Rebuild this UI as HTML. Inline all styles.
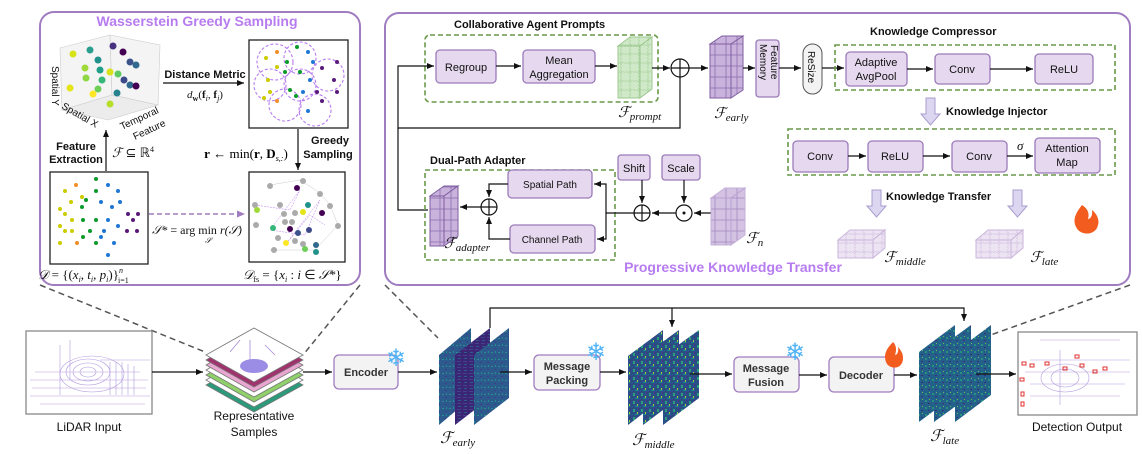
<!DOCTYPE html>
<html><head><meta charset="utf-8"><style>
html,body{margin:0;padding:0;background:#fff;}
svg{display:block;font-family:"Liberation Sans",sans-serif;}
.t{font-size:11px;fill:#111;}
.b{font-size:11px;font-weight:bold;fill:#111;}
.m{font-family:"Liberation Serif",serif;font-style:italic;fill:#111;}
.box{fill:#e6d9ef;stroke:#9b7bb8;stroke-width:1.3;}
.gbox{fill:#f3f3f3;stroke:#a07cc0;stroke-width:1.3;}
.gd{fill:none;stroke:#6a9a4a;stroke-width:1.6;stroke-dasharray:5 3;}
.ln{fill:none;stroke:#111;stroke-width:1.2;}
.dg{fill:none;stroke:#555;stroke-width:1.5;stroke-dasharray:6 4;}
.sf{font-size:24px;fill:#4fb3f5;}
</style></head><body>
<svg width="1142" height="454" viewBox="0 0 1142 454" xmlns="http://www.w3.org/2000/svg">
<defs>
<marker id="a" markerWidth="8" markerHeight="8" refX="7" refY="4" orient="auto" markerUnits="userSpaceOnUse"><path d="M0,1 L7,4 L0,7 z" fill="#111"/></marker>
<marker id="ap" markerWidth="9" markerHeight="9" refX="8" refY="4.5" orient="auto" markerUnits="userSpaceOnUse"><path d="M0,1 L8,4.5 L0,8 z" fill="#a07cc0"/></marker>
<pattern id="grid" width="11" height="11" patternUnits="userSpaceOnUse"><rect width="11" height="11" fill="#c9b3dc" stroke="#8e6fae" stroke-width="0.8"/></pattern>
<pattern id="gridg" width="9" height="9" patternUnits="userSpaceOnUse"><rect width="9" height="9" fill="#cfe8c8" stroke="#9cc98f" stroke-width="0.8" stroke-dasharray="2 1"/></pattern>
<pattern id="gridl" width="9" height="9" patternUnits="userSpaceOnUse"><rect width="9" height="9" fill="#ece3f3" stroke="#c9b6da" stroke-width="0.7" stroke-dasharray="2 1"/></pattern>
<pattern id="nz" width="7" height="7" patternUnits="userSpaceOnUse"><rect width="7" height="7" fill="#2c5a8c"/><rect x="1" y="2" width="2" height="1" fill="#2b8e8a"/><rect x="4" y="5" width="2" height="1" fill="#3a3f86"/><rect x="5" y="1" width="1" height="2" fill="#238a8d"/></pattern>
<pattern id="nz2" width="6" height="6" patternUnits="userSpaceOnUse"><rect width="6" height="6" fill="#3b2575"/><rect x="1" y="1" width="4" height="1" fill="#4a3f8a"/><rect x="2" y="4" width="3" height="1" fill="#2e5c8a"/></pattern>
<pattern id="nz3" width="8" height="8" patternUnits="userSpaceOnUse"><rect width="8" height="8" fill="#2a4f86"/><rect x="1" y="1" width="2" height="3" fill="#2aa07a"/><rect x="5" y="4" width="1" height="3" fill="#9ad840"/><rect x="3" y="6" width="3" height="1" fill="#1f8a8a"/><rect x="6" y="0" width="1" height="2" fill="#46337e"/></pattern>
<pattern id="nz4" width="7" height="7" patternUnits="userSpaceOnUse"><rect width="7" height="7" fill="#23608a"/><rect x="1" y="1" width="2" height="2" fill="#27917e"/><rect x="4" y="4" width="2" height="1" fill="#3a2f7a"/><rect x="5" y="0" width="1" height="1" fill="#6cc05a"/></pattern>
</defs>

<!-- LEFT PANEL -->
<rect x="40" y="12" width="320" height="273" rx="14" fill="none" stroke="#a07cc0" stroke-width="2"/>
<text x="197" y="26" text-anchor="middle" style="font-size:14px;font-weight:bold;fill:#b77cf0">Wasserstein Greedy Sampling</text>
<g stroke="#ccc" stroke-width="0.6" fill="#f4f4f4">
<polygon points="60,48 110,35 112,95 62,110"/>
<polygon points="110,35 160,45 158,105 112,95"/>
<polygon points="62,110 112,95 158,105 108,120" fill="#ececec"/>
</g>
<g>
<circle cx="73" cy="54" r="3.5" fill="#d8e219"/><circle cx="90" cy="50" r="3.5" fill="#2a9d8f"/><circle cx="113" cy="46" r="3.5" fill="#46327e"/><circle cx="123" cy="52" r="3.5" fill="#440154"/>
<circle cx="98" cy="60" r="3.5" fill="#21918c"/><circle cx="130" cy="62" r="3.5" fill="#3b528b"/><circle cx="136" cy="65" r="3.5" fill="#31688e"/>
<circle cx="85" cy="68" r="3.5" fill="#a0da39"/><circle cx="100" cy="70" r="3.5" fill="#1f9e89"/><circle cx="110" cy="72" r="3.5" fill="#d8e219"/><circle cx="118" cy="74" r="3.5" fill="#5ec962"/>
<circle cx="86" cy="78" r="3.5" fill="#8fd744"/><circle cx="102" cy="80" r="3.5" fill="#35b779"/><circle cx="124" cy="80" r="3.5" fill="#3e4989"/><circle cx="130" cy="85" r="3.5" fill="#31688e"/>
<circle cx="70" cy="88" r="3.5" fill="#e5e419"/><circle cx="98" cy="89" r="3.5" fill="#6ece58"/><circle cx="117" cy="93" r="3.5" fill="#26828e"/><circle cx="136" cy="86" r="3.5" fill="#440154"/>
<circle cx="93" cy="94" r="3.5" fill="#fde725"/><circle cx="110" cy="104" r="3.5" fill="#b5de2b"/>
</g>
<text transform="translate(52,66) rotate(90)" class="t" style="font-size:10px">Spatial Y</text>
<text transform="translate(61,108) rotate(30)" class="t" style="font-size:10px">Spatial X</text>
<text transform="translate(122,130) rotate(-25)" class="t" style="font-size:10px">Temporal</text>
<text transform="translate(135,140) rotate(-25)" class="t" style="font-size:10px">Feature</text>
<text x="205" y="78" text-anchor="middle" class="b">Distance Metric</text>
<line x1="163" y1="83" x2="244" y2="83" class="ln" marker-end="url(#a)"/>
<text x="205" y="98" text-anchor="middle" class="m" style="font-size:11px">d<tspan style="font-size:8px;font-weight:bold;font-style:normal" dy="3">w</tspan><tspan dy="-3" style="font-style:normal">(</tspan><tspan font-weight="bold" font-style="normal">f</tspan><tspan font-size="8" dy="3">i</tspan><tspan dy="-3" font-style="normal">, </tspan><tspan font-weight="bold" font-style="normal">f</tspan><tspan font-size="8" dy="3">j</tspan><tspan dy="-3" font-style="normal">)</tspan></text>
<rect x="249" y="40" width="99" height="88" fill="#fff" stroke="#222" stroke-width="1.3"/>
<g fill="none" stroke="#b77cf0" stroke-width="1.1" stroke-dasharray="3 2">
<circle cx="275" cy="62" r="18"/><circle cx="300" cy="58" r="16"/><circle cx="328" cy="75" r="16"/><circle cx="270" cy="85" r="16"/><circle cx="300" cy="85" r="16"/><circle cx="285" cy="105" r="16"/><circle cx="315" cy="110" r="16"/>
</g>
<g><circle cx="277" cy="52" r="2" fill="#f28e2b"/><circle cx="297" cy="47" r="2" fill="#0a9a2a"/><circle cx="308" cy="52" r="2" fill="#1f77d4"/><circle cx="287" cy="62" r="2" fill="#0a9a2a"/><circle cx="266" cy="58" r="2" fill="#cccc00"/><circle cx="277" cy="67" r="2" fill="#cccc00"/><circle cx="313" cy="62" r="2" fill="#1f77d4"/><circle cx="337" cy="62" r="2" fill="#5a1a7a"/><circle cx="322" cy="68" r="2" fill="#5a1a7a"/><circle cx="285" cy="72" r="2" fill="#0a9a2a"/><circle cx="300" cy="72" r="2" fill="#0a9a2a"/><circle cx="334" cy="80" r="2" fill="#5a1a7a"/><circle cx="268" cy="80" r="2" fill="#cccc00"/><circle cx="310" cy="80" r="2" fill="#1f77d4"/><circle cx="290" cy="90" r="2" fill="#0a9a2a"/><circle cx="303" cy="92" r="2" fill="#1f77d4"/><circle cx="270" cy="92" r="2" fill="#cccc00"/><circle cx="277" cy="101" r="2" fill="#f28e2b"/><circle cx="296" cy="96" r="2" fill="#0a9a2a"/><circle cx="317" cy="92" r="2" fill="#5a1a7a"/><circle cx="337" cy="92" r="2" fill="#5a1a7a"/><circle cx="308" cy="111" r="2" fill="#1f77d4"/><circle cx="322" cy="101" r="2" fill="#5a1a7a"/><circle cx="264" cy="98" r="2" fill="#cccc00"/></g>
<line x1="298" y1="129" x2="298" y2="170" class="ln" marker-end="url(#a)"/>
<text x="330" y="144" text-anchor="middle" class="b">Greedy</text>
<text x="328" y="158" text-anchor="middle" class="b">Sampling</text>
<text x="246" y="158" text-anchor="middle" style="font-size:13px;font-family:'Liberation Serif',serif"><tspan font-weight="bold">r</tspan> ← min(<tspan font-weight="bold">r</tspan>, <tspan font-weight="bold">D</tspan><tspan font-size="8" font-style="italic" dy="3">s,:</tspan><tspan dy="-3">)</tspan></text>
<line x1="106" y1="171" x2="106" y2="130" class="ln" marker-end="url(#a)"/>
<text x="76" y="150" text-anchor="middle" class="b">Feature</text>
<text x="76" y="163" text-anchor="middle" class="b">Extraction</text>
<text x="112" y="157" class="m" style="font-size:13px">ℱ <tspan font-style="normal">⊆ ℝ</tspan><tspan font-size="8" dy="-5" font-style="normal">4</tspan></text>
<rect x="50" y="172" width="98" height="92" fill="#fff" stroke="#222" stroke-width="1.3"/>
<g><circle cx="96" cy="179" r="2" fill="#0a9a2a"/><circle cx="76" cy="185" r="2" fill="#f28e2b"/><circle cx="108" cy="185" r="2" fill="#1f77d4"/><circle cx="65" cy="191" r="2" fill="#cccc00"/><circle cx="96" cy="191" r="2" fill="#0a9a2a"/><circle cx="118" cy="191" r="2" fill="#1f77d4"/><circle cx="82" cy="197" r="2" fill="#cccc00"/><circle cx="71" cy="202" r="2" fill="#cccc00"/><circle cx="86" cy="200" r="2" fill="#0a9a2a"/><circle cx="101" cy="202" r="2" fill="#1f77d4"/><circle cx="120" cy="202" r="2" fill="#1f77d4"/><circle cx="60" cy="209" r="2" fill="#cccc00"/><circle cx="82" cy="207" r="2" fill="#0a9a2a"/><circle cx="112" cy="207" r="2" fill="#1f77d4"/><circle cx="128" cy="214" r="2" fill="#5a1a7a"/><circle cx="138" cy="214" r="2" fill="#5a1a7a"/><circle cx="65" cy="214" r="2" fill="#cccc00"/><circle cx="72" cy="220" r="2" fill="#cccc00"/><circle cx="83" cy="220" r="2" fill="#0a9a2a"/><circle cx="96" cy="220" r="2" fill="#0a9a2a"/><circle cx="108" cy="220" r="2" fill="#1f77d4"/><circle cx="133" cy="220" r="2" fill="#5a1a7a"/><circle cx="60" cy="226" r="2" fill="#cccc00"/><circle cx="118" cy="226" r="2" fill="#1f77d4"/><circle cx="65" cy="231" r="2" fill="#cccc00"/><circle cx="72" cy="231" r="2" fill="#cccc00"/><circle cx="90" cy="231" r="2" fill="#0a9a2a"/><circle cx="104" cy="231" r="2" fill="#1f77d4"/><circle cx="127" cy="231" r="2" fill="#5a1a7a"/><circle cx="137" cy="231" r="2" fill="#5a1a7a"/><circle cx="83" cy="237" r="2" fill="#0a9a2a"/><circle cx="101" cy="237" r="2" fill="#1f77d4"/><circle cx="60" cy="243" r="2" fill="#cccc00"/><circle cx="77" cy="243" r="2" fill="#f28e2b"/><circle cx="96" cy="243" r="2" fill="#0a9a2a"/><circle cx="114" cy="243" r="2" fill="#1f77d4"/><circle cx="108" cy="255" r="2" fill="#1f77d4"/></g>
<text x="38" y="279" class="m" style="font-size:13px">𝒟 <tspan font-style="normal">= {(</tspan>x<tspan font-size="8" dy="3">i</tspan><tspan dy="-3">, t</tspan><tspan font-size="8" dy="3">i</tspan><tspan dy="-3">, p</tspan><tspan font-size="8" dy="3">i</tspan><tspan dy="-3" font-style="normal">)}</tspan><tspan font-size="8" dy="-6">n</tspan><tspan font-size="8" dx="-5" dy="10" font-style="normal">i=1</tspan></text>
<line x1="149" y1="214" x2="245" y2="214" stroke="#a07cc0" stroke-width="1.5" stroke-dasharray="5 3" marker-end="url(#ap)"/>
<text x="197" y="234" text-anchor="middle" class="m" style="font-size:12px">𝒮* <tspan font-style="normal">= arg min</tspan> r(𝒮)</text>
<text x="205" y="243" class="m" style="font-size:8px">𝒮</text>
<rect x="249" y="172" width="96" height="90" fill="#fff" stroke="#222" stroke-width="1.3"/>
<g stroke="#b77cf0" stroke-width="0.5" stroke-dasharray="2 1" fill="none"><path d="M255,205 L290,210 L300,190 L270,230 L305,235 L320,200 L285,245 L310,215 L325,225"/></g>
<g stroke="#bbb" stroke-width="0.4" fill="none"><path d="M270,185 L300,180 L320,193 L330,205 L338,225 L315,250 L270,250"/></g>
<g><circle cx="270" cy="186" r="3" fill="#aaa"/><circle cx="303" cy="181" r="3" fill="#aaa"/><circle cx="297" cy="188" r="3" fill="#440154"/><circle cx="320" cy="194" r="3" fill="#aaa"/><circle cx="255" cy="205" r="3" fill="#aaa"/><circle cx="257" cy="210" r="3" fill="#a0da39"/><circle cx="280" cy="205" r="3" fill="#aaa"/><circle cx="308" cy="205" r="3" fill="#21918c"/><circle cx="303" cy="212" r="3" fill="#e5e419"/><circle cx="322" cy="213" r="3" fill="#440154"/><circle cx="330" cy="206" r="3" fill="#aaa"/><circle cx="284" cy="214" r="3" fill="#aaa"/><circle cx="295" cy="213" r="3" fill="#aaa"/><circle cx="285" cy="222" r="3" fill="#aaa"/><circle cx="292" cy="222" r="3" fill="#aaa"/><circle cx="256" cy="225" r="3" fill="#aaa"/><circle cx="273" cy="228" r="3" fill="#35b779"/><circle cx="290" cy="229" r="3" fill="#440154"/><circle cx="298" cy="233" r="3" fill="#3b528b"/><circle cx="309" cy="230" r="3" fill="#3e4989"/><circle cx="338" cy="226" r="3" fill="#aaa"/><circle cx="278" cy="238" r="3" fill="#aaa"/><circle cx="295" cy="241" r="3" fill="#aaa"/><circle cx="286" cy="243" r="3" fill="#fde725"/><circle cx="303" cy="244" r="3" fill="#aaa"/><circle cx="316" cy="245" r="3" fill="#31688e"/><circle cx="305" cy="249" r="3" fill="#6ece58"/><circle cx="274" cy="250" r="3" fill="#aaa"/><circle cx="316" cy="252" r="3" fill="#21918c"/></g>
<text x="243" y="279" class="m" style="font-size:13px">𝒟<tspan font-size="8" dy="3" font-style="normal">fs</tspan><tspan dy="-3" font-style="normal"> = {</tspan>x<tspan font-size="8" dy="3">i</tspan><tspan dy="-3" font-style="normal"> : </tspan>i <tspan font-style="normal">∈</tspan> 𝒮*<tspan font-style="normal">}</tspan></text>

<!-- RIGHT PANEL -->
<rect x="385" y="13" width="745" height="272" rx="14" fill="none" stroke="#a07cc0" stroke-width="2"/>
<text x="454" y="28" class="b">Collaborative Agent Prompts</text>
<rect x="425" y="35" width="233" height="67" rx="5" class="gd"/>
<rect x="436" y="50" width="60" height="33" rx="4" class="box"/><text x="466" y="71" text-anchor="middle" class="t">Regroup</text>
<rect x="523" y="50" width="72" height="33" rx="4" class="box"/><text x="559" y="64" text-anchor="middle" class="t">Mean</text><text x="559" y="78" text-anchor="middle" class="t">Aggregation</text>
<line x1="496" y1="66" x2="521" y2="66" class="ln" marker-end="url(#a)"/>
<line x1="595" y1="66" x2="617" y2="66" class="ln" marker-end="url(#a)"/>
<polygon points="618,46 630,37 652,37 640,46" fill="url(#gridg)" stroke="#9cc98f"/>
<polygon points="640,46 652,37 652,89 640,98" fill="url(#gridg)" stroke="#9cc98f"/>
<rect x="618" y="46" width="22" height="52" fill="url(#gridg)" stroke="#9cc98f"/>
<text x="618" y="117" class="m" style="font-size:15px">ℱ<tspan font-size="11" dy="3">prompt</tspan></text>
<line x1="652" y1="68" x2="670" y2="68" class="ln" marker-end="url(#a)"/>
<circle cx="680" cy="68" r="9" fill="#fff" stroke="#111" stroke-width="1.2"/><path d="M671,68 H689 M680,59 V77" stroke="#111" stroke-width="1.2"/>
<line x1="689" y1="68" x2="708" y2="68" class="ln" marker-end="url(#a)"/>
<polygon points="710,44 722,36 743,36 731,44" fill="url(#grid)" stroke="#7e5ea0"/>
<polygon points="731,44 743,36 743,90 731,98" fill="url(#grid)" stroke="#7e5ea0"/>
<rect x="710" y="44" width="21" height="54" fill="url(#grid)" stroke="#7e5ea0"/>
<text x="714" y="118" class="m" style="font-size:15px">ℱ<tspan font-size="11" dy="3">early</tspan></text>
<line x1="743" y1="68" x2="755" y2="68" class="ln" marker-end="url(#a)"/>
<rect x="756" y="40" width="23" height="57" rx="3" class="box"/>
<text transform="translate(771,45) rotate(90)" class="t" style="font-size:10px">Feature</text>
<text transform="translate(760,44) rotate(90)" class="t" style="font-size:10px">Memory</text>
<line x1="779" y1="68" x2="801" y2="68" class="ln" marker-end="url(#a)"/>
<rect x="803" y="44" width="19" height="50" rx="9.5" fill="#f3f3f3" stroke="#555" stroke-width="1"/>
<text transform="translate(808,51) rotate(90)" class="t" style="font-size:10px">ReSize</text>
<line x1="822" y1="68" x2="844" y2="68" class="ln" marker-end="url(#a)"/>
<text x="870" y="35" class="b">Knowledge Compressor</text>
<rect x="835" y="45" width="280" height="45" class="gd"/>
<rect x="846" y="52" width="61" height="34" rx="4" class="box"/><text x="876" y="66" text-anchor="middle" class="t">Adaptive</text><text x="876" y="80" text-anchor="middle" class="t">AvgPool</text>
<rect x="935" y="54" width="55" height="30" rx="4" class="box"/><text x="962" y="73" text-anchor="middle" class="t">Conv</text>
<rect x="1035" y="54" width="58" height="30" rx="4" class="box"/><text x="1064" y="73" text-anchor="middle" class="t">ReLU</text>
<line x1="907" y1="69" x2="933" y2="69" class="ln" marker-end="url(#a)"/>
<line x1="990" y1="69" x2="1033" y2="69" class="ln" marker-end="url(#a)"/>
<g fill="#dcd6f0" stroke="#a99ccf" stroke-width="1">
<polygon points="926,98 935,98 935,114 940,114 930.5,125 921,114 926,114"/>
<polygon points="872,190 881,190 881,206 886,206 876.5,217 867,206 872,206"/>
<polygon points="1013,190 1022,190 1022,206 1027,206 1017.5,217 1008,206 1013,206"/>
</g>
<text x="946" y="115" class="b">Knowledge Injector</text>
<rect x="788" y="129" width="327" height="46" class="gd"/>
<rect x="793" y="141" width="55" height="31" rx="4" class="box"/><text x="820" y="160" text-anchor="middle" class="t">Conv</text>
<rect x="868" y="141" width="55" height="31" rx="4" class="box"/><text x="895" y="160" text-anchor="middle" class="t">ReLU</text>
<rect x="952" y="141" width="55" height="31" rx="4" class="box"/><text x="979" y="160" text-anchor="middle" class="t">Conv</text>
<rect x="1035" y="138" width="65" height="35" rx="4" class="box"/><text x="1067" y="152" text-anchor="middle" class="t">Attention</text><text x="1067" y="166" text-anchor="middle" class="t">Map</text>
<line x1="848" y1="156" x2="866" y2="156" class="ln" marker-end="url(#a)"/>
<line x1="923" y1="156" x2="950" y2="156" class="ln" marker-end="url(#a)"/>
<line x1="1007" y1="156" x2="1033" y2="156" class="ln" marker-end="url(#a)"/>
<text x="1017" y="150" class="m" style="font-size:13px">σ</text>
<text x="886" y="200" class="b">Knowledge Transfer</text>
<polygon points="838,240 850,230 885,230 873,240" fill="url(#gridl)" stroke="#c9b6da"/>
<polygon points="873,240 885,230 885,248 873,258" fill="url(#gridl)" stroke="#c9b6da"/>
<rect x="838" y="240" width="35" height="18" fill="url(#gridl)" stroke="#c9b6da"/>
<text x="884" y="262" class="m" style="font-size:15px">ℱ<tspan font-size="11" dy="3">middle</tspan></text>
<polygon points="976,240 988,230 1023,230 1011,240" fill="url(#gridl)" stroke="#c9b6da"/>
<polygon points="1011,240 1023,230 1023,248 1011,258" fill="url(#gridl)" stroke="#c9b6da"/>
<rect x="976" y="240" width="35" height="18" fill="url(#gridl)" stroke="#c9b6da"/>
<text x="1030" y="262" class="m" style="font-size:15px">ℱ<tspan font-size="11" dy="3">late</tspan></text>
<path d="M1082,205 C1074,215 1072,222 1078,230 C1083,235 1093,235 1097,228 C1101,220 1096,213 1092,210 C1093,216 1090,219 1088,219 C1090,213 1087,208 1082,205 z" fill="#f25c1f"/>
<text x="733" y="272" text-anchor="middle" style="font-size:14px;font-weight:bold;fill:#b77cf0">Progressive Knowledge Transfer</text>
<path d="M680,77 V128 H398 V66 H434" class="ln" marker-end="url(#a)"/>
<path d="M398,128 V210 H428" class="ln"/>
<text x="430" y="164" class="b">Dual-Path Adapter</text>
<rect x="425" y="170" width="190" height="90" class="gd"/>
<polygon points="430,196 444,186 458,186 444,196" fill="url(#grid)" stroke="#7e5ea0"/>
<polygon points="444,196 458,186 458,236 444,246" fill="url(#grid)" stroke="#7e5ea0"/>
<rect x="430" y="196" width="14" height="50" fill="url(#grid)" stroke="#7e5ea0"/>
<text x="444" y="248" class="m" style="font-size:15px">ℱ<tspan font-size="11" dy="3">adapter</tspan></text>
<circle cx="489" cy="207" r="8" fill="#fff" stroke="#111" stroke-width="1.2"/><path d="M481,207 H497 M489,199 V215" stroke="#111" stroke-width="1.2"/>
<line x1="481" y1="207" x2="460" y2="207" class="ln" marker-end="url(#a)"/>
<rect x="508" y="170" width="84" height="28" rx="4" class="box"/><text x="550" y="188" text-anchor="middle" class="t" style="font-size:10px">Spatial Path</text>
<rect x="510" y="225" width="85" height="28" rx="4" class="box"/><text x="552" y="243" text-anchor="middle" class="t" style="font-size:10px">Channel Path</text>
<path d="M508,184 H489 V197" class="ln" marker-end="url(#a)"/>
<path d="M510,239 H489 V217" class="ln" marker-end="url(#a)"/>
<path d="M634,213 H606 V184 H594" class="ln" marker-end="url(#a)"/>
<path d="M606,213 V239 H597" class="ln" marker-end="url(#a)"/>
<rect x="618" y="155" width="32" height="25" rx="3" class="box"/><text x="634" y="172" text-anchor="middle" class="t">Shift</text>
<rect x="662" y="155" width="38" height="25" rx="3" class="box"/><text x="681" y="172" text-anchor="middle" class="t">Scale</text>
<line x1="642" y1="180" x2="642" y2="203" class="ln" marker-end="url(#a)"/>
<line x1="684" y1="180" x2="684" y2="203" class="ln" marker-end="url(#a)"/>
<circle cx="642" cy="213" r="8" fill="#fff" stroke="#111" stroke-width="1.2"/><path d="M634,213 H650 M642,205 V221" stroke="#111" stroke-width="1.2"/>
<circle cx="684" cy="213" r="8" fill="#fff" stroke="#111" stroke-width="1.2"/><circle cx="684" cy="213" r="1.5" fill="#111"/>
<line x1="676" y1="213" x2="652" y2="213" class="ln" marker-end="url(#a)"/>
<line x1="711" y1="213" x2="694" y2="213" class="ln" marker-end="url(#a)"/>
<polygon points="711,198 725,188 745,188 731,198" fill="url(#grid)" stroke="#b89fd0" opacity="0.8"/>
<polygon points="731,198 745,188 745,235 731,245" fill="url(#grid)" stroke="#b89fd0" opacity="0.8"/>
<rect x="711" y="198" width="20" height="47" fill="url(#grid)" stroke="#b89fd0" opacity="0.8"/>
<text x="746" y="243" class="m" style="font-size:15px">ℱ<tspan font-size="11" dy="3">n</tspan></text>

<!-- dashed zoom lines -->
<line x1="40" y1="285" x2="205" y2="352" class="dg"/>
<line x1="360" y1="285" x2="303" y2="355" class="dg"/>
<line x1="385" y1="285" x2="438" y2="338" class="dg"/>
<line x1="1130" y1="285" x2="985" y2="337" class="dg"/>

<!-- BOTTOM ROW -->
<rect x="26" y="331" width="126" height="83" fill="#fff" stroke="#888" stroke-width="1.3"/>
<g stroke="#a58ad8" stroke-width="0.6" fill="none" opacity="0.85">
<path d="M30,380 H148 M32,388 H146 M35,372 H140 M30,396 H150 M60,345 V395 M70,340 V380 M100,360 H150 M40,404 H145"/>
<ellipse cx="88" cy="372" rx="8" ry="5"/><ellipse cx="88" cy="372" rx="15" ry="9"/><ellipse cx="88" cy="372" rx="22" ry="13"/><ellipse cx="92" cy="374" rx="32" ry="18"/>
<path d="M110,362 V395 M116,362 V395 M122,362 V395 M128,364 V395 M134,366 V395"/>
</g>
<text x="89" y="431" text-anchor="middle" style="font-size:12px;fill:#111">LiDAR Input</text>
<line x1="152" y1="372" x2="203" y2="372" class="ln" marker-end="url(#a)"/>
<g stroke="#777" stroke-width="0.8">
<polygon points="206,385 254,358 303,385 254,412" fill="#2a9a7a"/>
<polygon points="206,380 254,353 303,380 254,407" fill="#fff"/>
<polygon points="206,375 254,348 303,375 254,402" fill="#8fd06a"/>
<polygon points="206,370 254,343 303,370 254,397" fill="#fff"/>
<polygon points="206,365 254,338 303,365 254,392" fill="#e8a6d0"/>
<polygon points="206,360 254,333 303,360 254,387" fill="#a0336e"/>
<polygon points="206,355 254,328 303,355 254,382" fill="#fff"/>
</g>
<ellipse cx="254" cy="366" rx="14" ry="7" fill="#8a78e0" opacity="0.85"/>
<path d="M230,352 L240,340 M265,345 L275,355 M250,340 V362" stroke="#a58ad8" stroke-width="0.8"/>
<text x="254" y="420" text-anchor="middle" style="font-size:12px;fill:#111">Representative</text>
<text x="254" y="436" text-anchor="middle" style="font-size:12px;fill:#111">Samples</text>
<line x1="303" y1="372" x2="332" y2="372" class="ln" marker-end="url(#a)"/>
<rect x="334" y="355" width="64" height="34" rx="5" class="gbox"/><text x="366" y="376" text-anchor="middle" class="b" style="fill:#333">Encoder</text>
<text x="386" y="366" class="sf">❄</text>
<line x1="398" y1="372" x2="437" y2="372" class="ln" marker-end="url(#a)"/>
<!-- F_early maps -->
<polygon points="439,355 471,328 471,398 439,425" fill="url(#nz)"/>
<polygon points="455,355 490,328 490,398 455,425" fill="url(#nz2)"/>
<polygon points="474,355 509,328 509,398 474,425" fill="url(#nz)"/>
<text x="440" y="443" class="m" style="font-size:16px">ℱ<tspan font-size="11" dy="3">early</tspan></text>
<path d="M490,328 V308 H964 V321" class="ln" marker-end="url(#a)"/>
<line x1="672" y1="308" x2="672" y2="327" class="ln" marker-end="url(#a)"/>
<line x1="500" y1="372" x2="532" y2="372" class="ln" marker-end="url(#a)"/>
<rect x="534" y="355" width="66" height="35" rx="5" class="gbox"/><text x="567" y="370" text-anchor="middle" class="b" style="fill:#333">Message</text><text x="567" y="384" text-anchor="middle" class="b" style="fill:#333">Packing</text>
<text x="586" y="360" class="sf">❄</text>
<line x1="600" y1="372" x2="626" y2="372" class="ln" marker-end="url(#a)"/>
<!-- F_middle -->
<polygon points="628,356 663,330 663,398 628,425" fill="url(#nz3)"/>
<polygon points="643,356 679,330 679,398 643,425" fill="url(#nz3)"/>
<polygon points="663,356 699,330 699,398 663,425" fill="url(#nz3)"/>
<text x="632" y="445" class="m" style="font-size:16px">ℱ<tspan font-size="11" dy="3">middle</tspan></text>
<line x1="690" y1="374" x2="732" y2="374" class="ln" marker-end="url(#a)"/>
<rect x="734" y="357" width="65" height="35" rx="5" class="gbox"/><text x="766" y="372" text-anchor="middle" class="b" style="fill:#333">Message</text><text x="766" y="386" text-anchor="middle" class="b" style="fill:#333">Fusion</text>
<text x="785" y="360" class="sf">❄</text>
<line x1="799" y1="375" x2="827" y2="375" class="ln" marker-end="url(#a)"/>
<rect x="829" y="357" width="65" height="35" rx="5" class="gbox"/><text x="861" y="379" text-anchor="middle" class="b" style="fill:#333">Decoder</text>
<path d="M893,342 C885,350 883,357 887,364 C891,369 899,369 902,363 C905,356 901,350 898,347 C899,352 897,355 895,355 C897,349 896,345 893,342 z" fill="#f25c1f"/>
<line x1="894" y1="375" x2="917" y2="375" class="ln" marker-end="url(#a)"/>
<!-- F_late -->
<polygon points="919,352 955,325 955,395 919,422" fill="url(#nz4)"/>
<polygon points="934,352 971,325 971,395 934,422" fill="url(#nz4)"/>
<polygon points="955,352 991,325 991,395 955,422" fill="url(#nz4)"/>
<text x="930" y="441" class="m" style="font-size:16px">ℱ<tspan font-size="11" dy="3">late</tspan></text>
<line x1="976" y1="374" x2="1016" y2="374" class="ln" marker-end="url(#a)"/>
<rect x="1018" y="332" width="119" height="83" fill="#fff" stroke="#888" stroke-width="1.3"/>
<g stroke="#a58ad8" stroke-width="0.6" fill="none" opacity="0.85">
<path d="M1040,340 H1120 M1030,360 H1130 M1025,372 H1130 M1030,384 H1125 M1030,396 H1120 M1060,350 V405"/>
<ellipse cx="1065" cy="378" rx="14" ry="9"/><ellipse cx="1065" cy="378" rx="24" ry="14"/>
</g>
<g fill="none" stroke="#e03030" stroke-width="1"><rect x="1022" y="362" width="4" height="3"/><rect x="1030" y="364" width="4" height="3"/><rect x="1045" y="362" width="4" height="3"/><rect x="1063" y="367" width="4" height="3"/><rect x="1080" y="364" width="4" height="3"/><rect x="1093" y="370" width="4" height="3"/><rect x="1103" y="367" width="4" height="3"/><rect x="1020" y="378" width="4" height="3"/><rect x="1021" y="392" width="3" height="4"/><rect x="1021" y="402" width="3" height="4"/><rect x="1075" y="355" width="4" height="3"/></g>
<text x="1077" y="431" text-anchor="middle" style="font-size:12px;fill:#111">Detection Output</text>
</svg>
</body></html>
